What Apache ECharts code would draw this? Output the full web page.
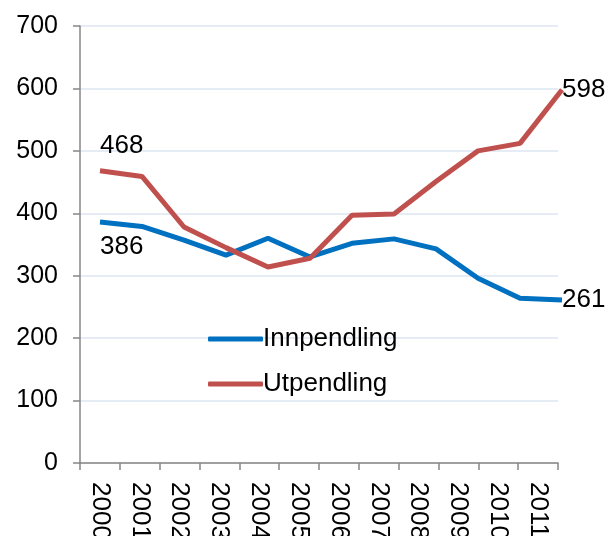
<!DOCTYPE html>
<html>
<head>
<meta charset="utf-8">
<script src="https://cdn.jsdelivr.net/npm/echarts@6/dist/echarts.min.js"></script>
<style>
html, body { margin: 0; padding: 0; background: #fff; }
#chartmain { width: 609px; height: 536px; }
</style>
</head>
<body>
<div id="chartmain"></div>
<script>
var years = ['2000', '2001', '2002', '2003', '2004', '2005', '2006', '2007', '2008', '2009', '2010', '2011'];
var innpendling = [386, 379, 357, 333, 360, 330, 352, 359, 343, 296, 264, 261];
var utpendling = [468, 459, 378, 345, 314, 328, 397, 399, 451, 500, 512, 598];
var yTicks = [0, 100, 200, 300, 400, 500, 600, 700];

var font = 'Liberation Sans, Arial, sans-serif';

// labels only on first and last point
function withEndLabels(values, firstPos, lastPos) {
    return values.map(function (v, i) {
        if (i == 0) return {value: v, label: {show: true, position: firstPos, distance: 12, align: 'left'}};
        if (i == values.length - 1) return {value: v, label: {show: true, position: lastPos, distance: 0}};
        return v;
    });
}

var option = {
    animation: false,
    color: ['#0070c0', '#c0504d'],
    textStyle: {fontFamily: font},
    grid: [
        {left: 80, right: 51, top: 26, bottom: 73, outerBoundsMode: 'none', containLabel: false},
        {left: 100, right: 47, top: 26, bottom: 73, outerBoundsMode: 'none', containLabel: false}
    ],
    legend: {
        orient: 'vertical',
        left: 203,
        top: 321,
        itemWidth: 55,
        itemHeight: 5,
        itemGap: 19,
        icon: 'roundRect',
        textStyle: {fontSize: 26, color: '#000', fontFamily: font, padding: [0, 0, 0, -5]},
        data: ['Innpendling', 'Utpendling']
    },
    xAxis: [
        {
            type: 'category',
            gridIndex: 0,
            data: years,
            boundaryGap: true,
            axisLine: {lineStyle: {color: '#868686', width: 1.5}},
            axisTick: {show: true, length: 7, lineStyle: {color: '#868686', width: 1.5}},
            axisLabel: {rotate: -90, fontSize: 26, color: '#000', margin: 19, fontFamily: font}
        },
        {
            type: 'category',
            gridIndex: 1,
            data: years,
            boundaryGap: false,
            show: false
        }
    ],
    yAxis: [
        {
            type: 'value',
            gridIndex: 0,
            min: 0,
            max: 700,
            interval: 100,
            axisLine: {show: true, lineStyle: {color: '#868686', width: 1.5}},
            axisTick: {show: true, length: 7, lineStyle: {color: '#868686', width: 1.5}},
            axisLabel: {fontSize: 25, color: '#000', margin: 22, fontFamily: font,
                formatter: function (v) { return yTicks.indexOf(v) >= 0 ? v : ''; }},
            splitLine: {show: true, lineStyle: {color: '#dce6f2', width: 1.5}}
        },
        {
            type: 'value',
            gridIndex: 1,
            min: 0,
            max: 700,
            interval: 100,
            show: false,
            splitLine: {show: false}
        }
    ],
    series: [
        {
            name: 'Innpendling',
            type: 'line',
            xAxisIndex: 1,
            yAxisIndex: 1,
            showSymbol: true,
            symbol: 'circle',
            symbolSize: 0,
            lineStyle: {width: 5, color: '#0070c0'},
            label: {fontSize: 26, color: '#000', fontFamily: font},
            data: withEndLabels(innpendling, 'bottom', 'right')
        },
        {
            name: 'Utpendling',
            type: 'line',
            xAxisIndex: 1,
            yAxisIndex: 1,
            showSymbol: true,
            symbol: 'circle',
            symbolSize: 0,
            lineStyle: {width: 5, color: '#c0504d'},
            label: {fontSize: 26, color: '#000', fontFamily: font},
            data: withEndLabels(utpendling, 'top', 'right')
        }
    ]
};

var myChart = echarts.init(document.getElementById('chartmain'));
myChart.setOption(option);
</script>
</body>
</html>
